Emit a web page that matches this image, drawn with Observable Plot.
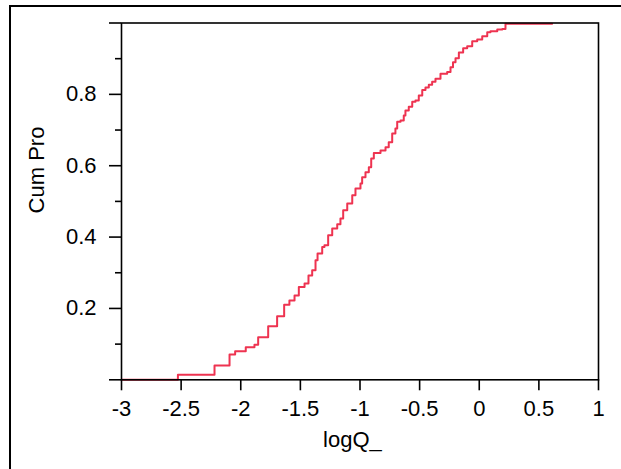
<!DOCTYPE html>
<html>
<head>
<meta charset="utf-8">
<script src="https://cdn.jsdelivr.net/npm/d3@7"></script>
<script src="https://cdn.jsdelivr.net/npm/@observablehq/plot@0.6"></script>
<style>
  html, body { margin: 0; padding: 0; background: #fff; }
  #wrap { position: relative; width: 621px; height: 469px; overflow: hidden; }
  #border { position: absolute; left: 8.5px; top: 5px; width: 700px; height: 600px;
            border-left: 2px solid #000; border-top: 2px solid #000; pointer-events: none; }
  #chart { position: absolute; left: 0; top: 0; }
</style>
</head>
<body>
<div id="wrap"><div id="chart"></div><div id="border"></div></div>
<script>
const logQ = [-3, -2.527, -2.220, -2.094, -2.047, -1.958, -1.885, -1.854, -1.770, -1.695,
  -1.636, -1.592, -1.549, -1.513, -1.465, -1.432, -1.401, -1.373, -1.356, -1.317,
  -1.298, -1.267, -1.233, -1.191, -1.164, -1.141, -1.107, -1.065, -1.038, -0.996,
  -0.982, -0.954, -0.926, -0.906, -0.884, -0.828, -0.786, -0.759, -0.730, -0.703,
  -0.688, -0.660, -0.633, -0.619, -0.591, -0.562, -0.535, -0.507, -0.478, -0.451,
  -0.423, -0.395, -0.367, -0.325, -0.269, -0.241, -0.220, -0.199, -0.171, -0.135,
  -0.101, -0.059, -0.017, 0.025, 0.067, 0.094, 0.151, 0.193, 0.220, 0.611];
const cumPro = [0, 0.014, 0.040, 0.071, 0.080, 0.091, 0.098, 0.119, 0.150, 0.178,
  0.210, 0.222, 0.236, 0.260, 0.270, 0.292, 0.307, 0.335, 0.354, 0.372,
  0.377, 0.405, 0.424, 0.436, 0.452, 0.475, 0.494, 0.517, 0.536, 0.550,
  0.568, 0.582, 0.596, 0.620, 0.636, 0.643, 0.652, 0.666, 0.690, 0.704,
  0.723, 0.727, 0.741, 0.755, 0.765, 0.779, 0.783, 0.797, 0.812, 0.819,
  0.827, 0.835, 0.844, 0.858, 0.863, 0.876, 0.890, 0.901, 0.917, 0.929,
  0.935, 0.949, 0.954, 0.963, 0.974, 0.977, 0.982, 0.983, 0.998, 0.998];
const xTicks = [-3, -2.5, -2, -1.5, -1, -0.5, 0, 0.5, 1];
const yMajor = [0, 0.2, 0.4, 0.6, 0.8, 1];
const yLabeled = [0.2, 0.4, 0.6, 0.8];
const yMinor = [0.1, 0.3, 0.5, 0.7, 0.9];
const xLabel = "logQ_";
const yLabel = "Cum Pro";

const data = logQ.map((x, i) => ({x, y: cumPro[i]}));
const font = "'Liberation Sans', Arial, Helvetica, sans-serif";

const chart = Plot.plot({
  width: 621,
  height: 469,
  marginLeft: 121,
  marginRight: 23,
  marginTop: 22.5,
  marginBottom: 89.7,
  style: {fontFamily: font, fontSize: "22px", color: "#000", background: "transparent", overflow: "visible"},
  x: {domain: [-3, 1]},
  y: {domain: [0, 1]},
  marks: [
    Plot.line(data, {x: "x", y: "y", curve: "step-after", stroke: "#ee3350", strokeWidth: 2}),
    Plot.frame({stroke: "#000", strokeWidth: 1.6}),
    Plot.axisX(xTicks, {tickSize: 11, tickPadding: 10, tickFormat: d => String(d), label: null, strokeWidth: 1.6, fontSize: 22}),
    Plot.axisY(yMajor, {tickSize: 12, tickPadding: 13, tickFormat: d => yLabeled.includes(d) ? d.toFixed(1) : "", label: null, strokeWidth: 1.6, fontSize: 22}),
    Plot.axisY(yMinor, {tickSize: 6, tickFormat: () => "", label: null, strokeWidth: 1.6}),
    Plot.text([xLabel], {frameAnchor: "bottom", dy: 67, dx: -7.6, fontSize: 22, fill: "#000"}),
    Plot.text([yLabel], {frameAnchor: "left", rotate: -90, dx: -85, dy: 12, fontSize: 22, fill: "#000"})
  ]
});
document.getElementById("chart").appendChild(chart);
</script>
</body>
</html>
